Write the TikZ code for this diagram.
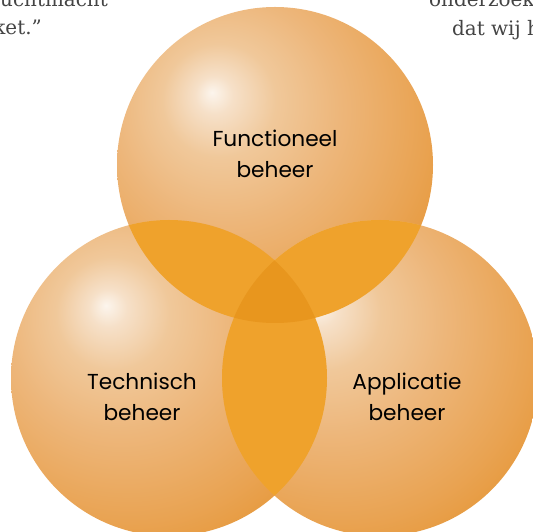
\documentclass[tikz,border=0pt]{standalone}
\usepackage{fontspec}
\newfontfamily\labelfont{Poppins}
\newfontfamily\pagefont{DejaVu Serif}
\definecolor{sphhl}{RGB}{252,245,237}
\definecolor{sphlight}{RGB}{246,224,200}
\definecolor{sphpeach}{RGB}{240,200,154}
\definecolor{sphmid}{RGB}{237,182,122}
\definecolor{sphdark}{RGB}{233,163,82}
\definecolor{sphedge}{RGB}{227,142,36}
\definecolor{pairfill}{RGB}{239,162,44}
\definecolor{triplefill}{RGB}{232,150,30}
\definecolor{pagegrey}{RGB}{68,68,68}
\pgfdeclareradialshading{sphere}{\pgfpoint{-10bp}{11.5bp}}{%
  color(0bp)=(sphhl); color(3bp)=(sphlight); color(9bp)=(sphpeach);%
  color(18bp)=(sphmid); color(30bp)=(sphdark); color(42bp)=(sphedge);%
  color(80bp)=(sphedge)}
\tikzset{
  circlabel/.style={font=\labelfont\fontsize{18.5}{27}\selectfont, align=center, text=black},
  pagetext/.style={font=\pagefont\fontsize{17}{20}\selectfont, text=pagegrey, inner sep=0pt}
}
\begin{document}
\begin{tikzpicture}[x=0.03cm, y=0.03cm]
        \useasboundingbox (0,0) rectangle (533,531);
        \clip (0,0) rectangle (533,531);
        
        % Centres of the three circles
        \coordinate (ctop) at (275,366);%
        \coordinate (cleft) at (169,153);%
        \coordinate (cright) at (380,153);%
        
        % Drawing the shaded circles
        \shade [shading=sphere] (ctop) circle (158);%
        \shade [shading=sphere] (cleft) circle (158);%
        \shade [shading=sphere] (cright) circle (158);%
        
        % Filling pairwise overlaps
        \begin{scope}
          \clip (ctop) circle (158);
          \fill [pairfill] (cleft) circle (158);%
          \fill [pairfill] (cright) circle (158);%
        \end{scope}
        \begin{scope}
          \clip (cleft) circle (158);
          \fill [pairfill] (cright) circle (158);%
        \end{scope}
        
        % Filling triple overlap
        \begin{scope}
          \clip (ctop) circle (158);
          \clip (cleft) circle (158);
          \fill [triplefill] (cright) circle (158);%
        \end{scope}
        
        % Labels of the circles
        \node [circlabel] (functioneel) at (275,377) {Functioneel\\beheer};%
        \node [circlabel] (technisch) at (142,134) {Technisch\\beheer};%
        \node [circlabel] (applicatie) at (407,134) {Applicatie\\beheer};%
        
        % Page text round the picture
        \node [pagetext, anchor=base east] (pageleftone) at (108,524) {luchtmacht};%
        \node [pagetext, anchor=base east] (pagelefttwo) at (42,496) {ket.”};%
        \node [pagetext, anchor=base west] (pagerightone) at (429,524) {onderzoek};%
        \node [pagetext, anchor=base west] (pagerighttwo) at (452,495) {dat wij h};%
\end{tikzpicture}
\end{document}
